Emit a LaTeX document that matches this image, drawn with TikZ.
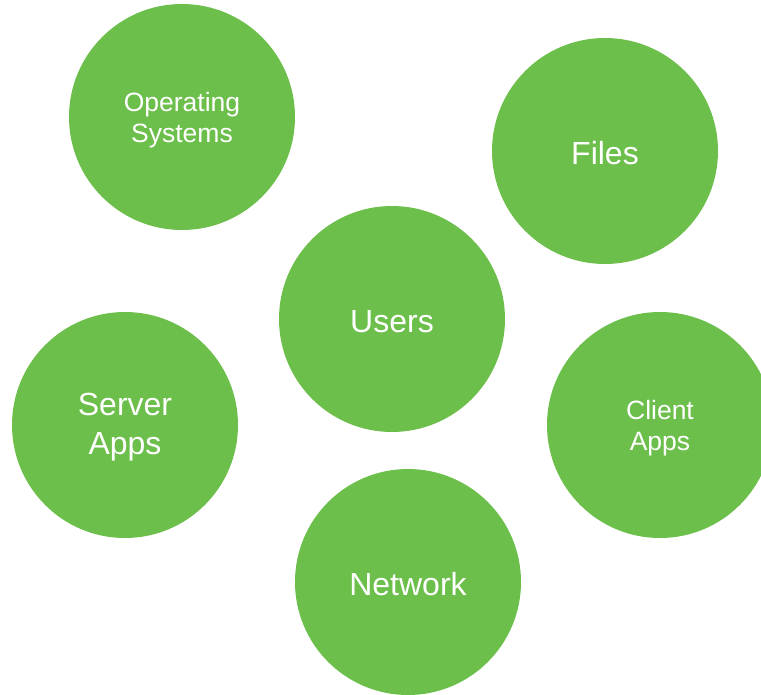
\documentclass[tikz,border=0pt]{standalone}
\usepackage{fontspec}
\setmainfont{Liberation Sans}
\definecolor{leaf}{HTML}{6CBF4B}
\begin{document}
\begin{tikzpicture}[x=1pt,y=-1pt,
  bubble/.style={circle, fill=leaf, minimum size=226pt, inner sep=0pt},
  caption/.style={text=white, align=center, inner sep=0pt},
  bigtext/.style={caption, font=\fontsize{32}{39}\selectfont},
  smalltext/.style={caption, font=\fontsize{26.5}{31.5}\selectfont}]
  \useasboundingbox (0,0) rectangle (761,695);
  \begin{scope}
    \clip (0,0) rectangle (761,695);
    % the six discs
    \node[bubble] (os) at (182,117) {};
    \node[bubble] (files) at (605,151) {};
    \node[bubble] (users) at (392,319) {};
    \node[bubble] (server) at (125,425) {};
    \node[bubble] (client) at (660,425) {};
    \node[bubble] (network) at (408,582) {};
    % their captions, set slightly below each centre
    \node[smalltext] (osT) at ([yshift=-3pt]os.center) {Operating\\Systems};
    \node[bigtext] (filesT) at ([yshift=-2.5pt]files.center) {Files};
    \node[bigtext] (usersT) at ([yshift=-2.5pt]users.center) {Users};
    \node[bigtext] (serverT) at ([yshift=-2.5pt]server.center) {Server\\Apps};
    \node[smalltext] (clientT) at ([yshift=-3pt]client.center) {Client\\Apps};
    \node[bigtext] (networkT) at ([yshift=-2.5pt]network.center) {Network};
  \end{scope}
\end{tikzpicture}
\end{document}
